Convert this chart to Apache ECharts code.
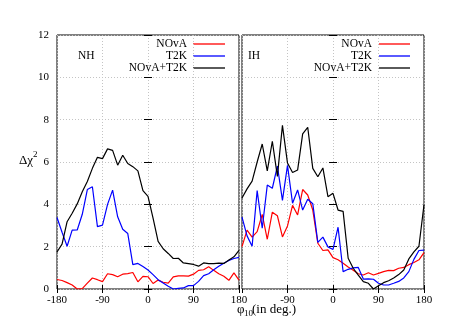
<!DOCTYPE html>
<html>
<head>
<meta charset="utf-8">
<script src="https://cdn.jsdelivr.net/npm/echarts@6/dist/echarts.min.js"></script>
<style>html,body{margin:0;padding:0;background:#fff}#c{width:463px;height:324px}</style>
</head>
<body>
<div id="c"></div>
<script>
// phi_10 values (deg)
const phi = [-180,-170,-160,-150,-140,-130,-120,-110,-100,-90,-80,-70,-60,-50,-40,-30,-20,-10,0,
             10,20,30,40,50,60,70,80,90,100,110,120,130,140,150,160,170,180];
const seriesNames = ['NOvA', 'T2K', 'NOvA+T2K'];
const panelLabels = ['NH', 'IH'];
const xTicks = [-180, -90, 0, 90, 180];
const yTicks = [0, 2, 4, 6, 8, 10, 12];

// NH
const nhNova = [0.45,0.40,0.30,0.19,0.00,0.02,0.28,0.52,0.44,0.35,0.72,0.68,0.58,0.70,0.73,0.78,0.34,0.60,0.58,
                0.26,0.42,0.32,0.28,0.57,0.62,0.62,0.61,0.70,0.88,0.91,1.05,0.88,0.72,0.60,0.41,0.76,0.42];
const nhT2k  = [3.38,2.68,2.02,2.78,2.79,3.53,4.70,4.83,2.95,3.02,4.00,4.67,3.41,2.82,2.62,1.15,1.21,1.06,0.90,
                0.68,0.44,0.28,0.13,0.00,0.03,0.05,0.16,0.16,0.36,0.63,0.72,0.91,1.07,1.22,1.35,1.44,1.49];
const nhComb = [1.75,2.12,3.18,3.58,4.02,4.59,5.08,5.70,6.22,6.16,6.62,6.55,5.85,6.32,5.93,5.78,5.58,4.65,4.38,
                3.35,2.25,1.90,1.68,1.44,1.45,1.23,1.20,1.16,1.08,1.23,1.20,1.20,1.22,1.21,1.37,1.52,1.82];
// IH
const ihNova = [2.00,2.78,2.45,2.71,3.52,2.35,3.63,3.46,2.46,2.98,3.95,3.50,4.70,4.44,3.73,2.16,1.82,1.85,1.48,
                1.38,1.22,1.04,0.88,0.72,0.66,0.77,0.66,0.74,0.82,0.88,0.87,0.98,1.02,1.15,1.25,1.38,1.72];
const ihT2k  = [3.40,2.51,2.02,4.65,2.87,4.91,4.76,5.81,4.19,5.84,4.05,4.68,3.73,4.24,4.03,2.20,2.45,1.99,1.87,
                2.92,0.82,0.93,1.00,1.02,0.47,0.48,0.46,0.27,0.19,0.19,0.27,0.36,0.52,0.82,1.40,1.82,1.84];
const ihComb = [4.30,4.73,5.10,6.00,6.85,5.58,6.98,5.32,7.73,5.95,5.50,5.62,7.33,7.64,5.70,5.30,5.72,4.36,4.52,
                3.73,3.67,1.45,0.98,0.66,0.35,0.27,0.00,0.15,0.30,0.39,0.52,0.68,0.90,1.42,1.75,2.02,3.98];

const panels = [[nhNova, nhT2k, nhComb], [ihNova, ihT2k, ihComb]];
const colors = ['#ff0000', '#0000ff', '#000000'];
const FONT = 'Liberation Serif';

const gridL = [57, 242], gridT = 35, gridW = 182, gridH = 254;

const grids = gridL.map(l => ({left: l, top: gridT, width: gridW, height: gridH,
  show: true, borderColor: '#000', borderWidth: 1, backgroundColor: 'transparent'}));

const xAxes = [], yAxes = [];
[0, 1].forEach(g => {
  xAxes.push({type: 'value', gridIndex: g, min: xTicks[0], max: xTicks[xTicks.length-1], interval: 90,
    position: 'bottom',
    axisLine: {show: false},
    axisTick: {show: true, inside: true, length: 4, lineStyle: {color: '#000'}},
    axisLabel: {show: true, showMinLabel: g === 0, color: '#000', fontFamily: FONT, fontSize: 11, margin: 6},
    splitLine: {show: true, lineStyle: {color: '#c4c4c4', type: [1, 2], width: 1}}});
  xAxes.push({type: 'value', gridIndex: g, min: -180, max: 180, interval: 90, position: 'top',
    axisLine: {show: false}, axisLabel: {show: false}, splitLine: {show: false},
    axisTick: {show: true, inside: true, length: 4, lineStyle: {color: '#000'}}});
  yAxes.push({type: 'value', gridIndex: g, min: yTicks[0], max: yTicks[yTicks.length-1], interval: 2,
    position: 'left',
    axisLine: {show: false},
    axisTick: {show: true, inside: true, length: 4, lineStyle: {color: '#000'}},
    axisLabel: {show: g === 0, color: '#000', fontFamily: FONT, fontSize: 11, margin: 8},
    splitLine: {show: true, lineStyle: {color: '#c4c4c4', type: [1, 2], width: 1}}});
  yAxes.push({type: 'value', gridIndex: g, min: 0, max: 12, interval: 2, position: 'right',
    axisLine: {show: false}, axisLabel: {show: false}, splitLine: {show: false},
    axisTick: {show: true, inside: true, length: 4, lineStyle: {color: '#000'}}});
});

const series = [];
panels.forEach((sets, g) => {
  sets.forEach((vals, k) => {
    series.push({name: seriesNames[k], type: 'line', xAxisIndex: g*2, yAxisIndex: g*2,
      data: phi.map((p, i) => [p, vals[i]]), showSymbol: false, symbol: 'none',
      lineStyle: {color: colors[k], width: 1.2}, itemStyle: {color: colors[k]},
      clip: true, animation: false, silent: true});
  });
});

const graphics = [];
const legTextRight = [187, 372], legLine = [[193, 225], [379, 410]], legY = [44, 56, 68];
[0, 1].forEach(g => {
  seriesNames.forEach((n, k) => {
    graphics.push({type: 'text', x: legTextRight[g], y: legY[k],
      style: {text: n, font: '11.5px "' + FONT + '"', fill: '#000', align: 'right', verticalAlign: 'middle'}});
    graphics.push({type: 'line', shape: {x1: legLine[g][0], y1: legY[k], x2: legLine[g][1], y2: legY[k]},
      style: {stroke: colors[k], lineWidth: 1.3}});
  });
  graphics.push({type: 'text', x: gridL[g] + (g === 0 ? 21 : 6), y: 56,
    style: {text: panelLabels[g], font: '11.5px "' + FONT + '"', fill: '#000', align: 'left', verticalAlign: 'middle'}});
});
// y-axis name Δχ²
graphics.push({type: 'text', x: 19, y: 161, style: {text: 'Δχ', font: '13px "' + FONT + '"', fill: '#000', align: 'left', verticalAlign: 'middle'}});
graphics.push({type: 'text', x: 33, y: 155, style: {text: '2', font: '9px "' + FONT + '"', fill: '#000', align: 'left', verticalAlign: 'middle'}});
// x-axis name φ10(in deg.)
graphics.push({type: 'text', x: 237, y: 310, style: {text: 'φ', font: '13px "' + FONT + '"', fill: '#000', align: 'left', verticalAlign: 'middle'}});
graphics.push({type: 'text', x: 244, y: 314, style: {text: '10', font: '9px "' + FONT + '"', fill: '#000', align: 'left', verticalAlign: 'middle'}});
graphics.push({type: 'text', x: 252, y: 310, style: {text: '(in deg.)', font: '13px "' + FONT + '"', fill: '#000', align: 'left', verticalAlign: 'middle'}});

const chart = echarts.init(document.getElementById('c'), null, {renderer: 'canvas'});
chart.setOption({
  animation: false,
  backgroundColor: '#fff',
  textStyle: {fontFamily: FONT},
  grid: grids,
  xAxis: xAxes,
  yAxis: yAxes,
  series: series,
  graphic: graphics
});
</script>
</body>
</html>
